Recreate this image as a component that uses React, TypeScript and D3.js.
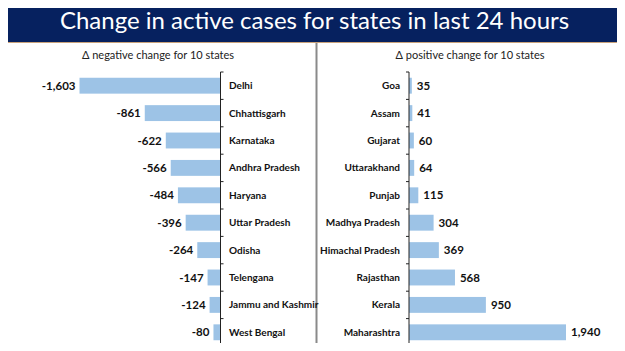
import React from "react";
import * as d3 from "d3";

const negStates = [
  "Delhi", "Chhattisgarh", "Karnataka", "Andhra Pradesh", "Haryana",
  "Uttar Pradesh", "Odisha", "Telengana", "Jammu and Kashmir", "West Bengal",
];
const negValues = [-1603, -861, -622, -566, -484, -396, -264, -147, -124, -80];

const posStates = [
  "Goa", "Assam", "Gujarat", "Uttarakhand", "Punjab",
  "Madhya Pradesh", "Himachal Pradesh", "Rajasthan", "Kerala", "Maharashtra",
];
const posValues = [35, 41, 60, 64, 115, 304, 369, 568, 950, 1940];

const title = "Change in active cases for states in last 24 hours";
const negTitle = "\u0394 negative change for 10 states";
const posTitle = "\u0394 positive change for 10 states";

const W = 625;
const H = 351;
const BAR = "#9dc3e6";
const FONT = "Lato, 'Open Sans', sans-serif";
// plain hyphen for negatives, like the source
const fmt = (v: number) => d3.format(",")(v).replace("\u2212", "-");

export default function App() {
  // vertical band shared by both panels
  const yNeg = d3.scaleBand<string>().domain(negStates).range([72, 346])
    .paddingInner(0.42).paddingOuter(0.21);
  const yPos = d3.scaleBand<string>().domain(posStates).range([72, 346])
    .paddingInner(0.42).paddingOuter(0.21);

  const xNeg = d3.scaleLinear()
    .domain([d3.min(negValues) ?? 0, 0])
    .range([79.5, 220.5]);
  const xPos = d3.scaleLinear()
    .domain([0, d3.max(posValues) ?? 0])
    .range([409, 566]);

  const tickYs = (y: d3.ScaleBand<string>) => {
    const s = y.step();
    const start = y.range()[0];
    return d3.range(y.domain().length + 1).map((i) => start + i * s);
  };

  return (
    <div style={{ margin: -8 }}>
      <svg width={W} height={H} style={{ display: "block", fontFamily: FONT }}>
        <rect width={W} height={H} fill="#fff" />
        {/* title band */}
        <rect x={0} y={0} width={W} height={42} fill="#06215f" />
        <line x1={0} x2={W} y1={42.5} y2={42.5} stroke="#c9a27a" strokeWidth={1} />
        <text x={W / 2 + 2} y={29} textAnchor="middle" fill="#fff" fontSize={24}
          fontFamily="Lato, sans-serif">{title}</text>

        {/* frame */}
        <g stroke="#8a8a8a" fill="none">
          <line x1={1} x2={1} y1={43} y2={350} strokeWidth={2} />
          <line x1={316.5} x2={316.5} y1={43} y2={350} strokeWidth={2} />
          <line x1={623.5} x2={623.5} y1={43} y2={350} strokeWidth={2} />
          <line x1={0} x2={W} y1={349.5} y2={349.5} strokeWidth={2} />
        </g>

        {/* sub titles */}
        <text x={158} y={59} textAnchor="middle" fontSize={11} fill="#222">{negTitle}</text>
        <text x={470} y={59} textAnchor="middle" fontSize={11} fill="#222">{posTitle}</text>

        {/* negative panel */}
        <g>
          {negStates.map((s, i) => {
            const v = negValues[i];
            const y0 = yNeg(s) ?? 0;
            const cy = y0 + yNeg.bandwidth() / 2;
            return (
              <g key={s}>
                <rect x={xNeg(v)} y={y0} width={xNeg(0) - xNeg(v)} height={yNeg.bandwidth()} fill={BAR} />
                <text x={xNeg(v) - 4} y={cy} dy="0.35em" textAnchor="end"
                  fontSize={11.5} fontWeight={700} fill="#111">{fmt(v)}</text>
                <text x={229} y={cy} dy="0.35em" fontSize={10}
                  fontWeight={700} fill="#111">{s}</text>
              </g>
            );
          })}
          <g stroke="#222" strokeWidth={1}>
            <line x1={xNeg(0)} x2={xNeg(0)} y1={72} y2={346} />
            {tickYs(yNeg).map((t, i) => (
              <line key={i} x1={xNeg(0)} x2={xNeg(0) + 3} y1={t} y2={t} />
            ))}
          </g>
        </g>

        {/* positive panel */}
        <g>
          {posStates.map((s, i) => {
            const v = posValues[i];
            const y0 = yPos(s) ?? 0;
            const cy = y0 + yPos.bandwidth() / 2;
            return (
              <g key={s}>
                <rect x={xPos(0)} y={y0} width={xPos(v) - xPos(0)} height={yPos.bandwidth()} fill={BAR} />
                <text x={xPos(v) + 5} y={cy} dy="0.35em"
                  fontSize={11.5} fontWeight={700} fill="#111">{fmt(v)}</text>
                <text x={400} y={cy} dy="0.35em" textAnchor="end" fontSize={10}
                  fontWeight={700} fill="#111">{s}</text>
              </g>
            );
          })}
          <g stroke="#222" strokeWidth={1}>
            <line x1={xPos(0)} x2={xPos(0)} y1={72} y2={346} />
            {tickYs(yPos).map((t, i) => (
              <line key={i} x1={xPos(0) - 3} x2={xPos(0)} y1={t} y2={t} />
            ))}
          </g>
        </g>
      </svg>
    </div>
  );
}
